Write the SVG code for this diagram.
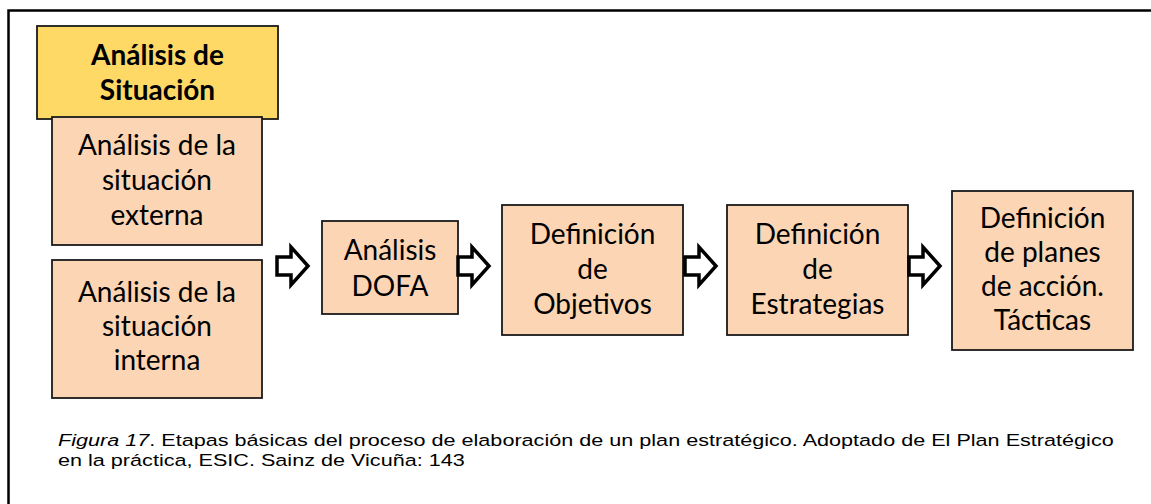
<svg xmlns="http://www.w3.org/2000/svg" width="1151" height="504" viewBox="0 0 1151 504">
<style>
.box{fill:#FCD5B4;stroke:#1a1a1a;stroke-width:1.8}
.head{fill:#FFD966;stroke:#1a1a1a;stroke-width:1.8}
.t{font-family:Lato,"Liberation Sans",sans-serif;font-size:28px;fill:#000;text-anchor:middle}
.b{font-weight:bold}
.arr{fill:#fff;stroke:#000;stroke-width:3.5;stroke-linejoin:miter}
.cap{font-family:"Liberation Sans",Arial,sans-serif;font-size:16.5px;fill:#000}
</style>
<defs>
<path id="arrow" d="M2,-9 H16 V-19 L33,0 L16,19 V9 H2 Z"/>
</defs>
<rect x="8.5" y="10.5" width="1160" height="510" fill="#fff" stroke="#000" stroke-width="2.5"/>
<g id="analisis-situacion">
<rect class="head" x="37" y="26" width="241" height="93"/>
<text class="t b" x="157.5" y="65">Análisis de</text>
<text class="t b" x="157.5" y="100">Situación</text>
</g>
<g id="situacion-externa">
<rect class="box" x="52" y="117" width="210" height="128"/>
<text class="t" x="157" y="155">Análisis de la</text>
<text class="t" x="157" y="190">situación</text>
<text class="t" x="157" y="225">externa</text>
</g>
<g id="situacion-interna">
<rect class="box" x="52" y="260" width="210" height="138"/>
<text class="t" x="157" y="302">Análisis de la</text>
<text class="t" x="157" y="336">situación</text>
<text class="t" x="157" y="370">interna</text>
</g>
<g id="dofa">
<rect class="box" x="322" y="221" width="136" height="93"/>
<text class="t" x="390" y="260">Análisis</text>
<text class="t" x="390" y="296">DOFA</text>
</g>
<g id="objetivos">
<rect class="box" x="502" y="205" width="181" height="130"/>
<text class="t" x="592.5" y="244">Definición</text>
<text class="t" x="592.5" y="279">de</text>
<text class="t" x="592.5" y="314">Objetivos</text>
</g>
<g id="estrategias">
<rect class="box" x="727" y="205" width="181" height="130"/>
<text class="t" x="817.5" y="244">Definición</text>
<text class="t" x="817.5" y="279">de</text>
<text class="t" x="817.5" y="314">Estrategias</text>
</g>
<g id="tacticas">
<rect class="box" x="952" y="191" width="181" height="159"/>
<text class="t" x="1042.5" y="228">Definición</text>
<text class="t" x="1042.5" y="262">de planes</text>
<text class="t" x="1042.5" y="296">de acción.</text>
<text class="t" x="1042.5" y="330">Tácticas</text>
</g>
<g id="connectors">
<use href="#arrow" class="arr" x="275" y="266"/>
<use href="#arrow" class="arr" x="456" y="266"/>
<use href="#arrow" class="arr" x="683" y="266"/>
<use href="#arrow" class="arr" x="907" y="266"/>
</g>
<g id="caption" transform="translate(58,0) scale(1.31,1)">
<text class="cap" x="0" y="446"><tspan font-style="italic">Figura 17</tspan>. Etapas básicas del proceso de elaboración de un plan estratégico. Adoptado de El Plan Estratégico</text>
<text class="cap" x="0" y="466">en la práctica, ESIC. Sainz de Vicuña: 143</text>
</g>
</svg>
